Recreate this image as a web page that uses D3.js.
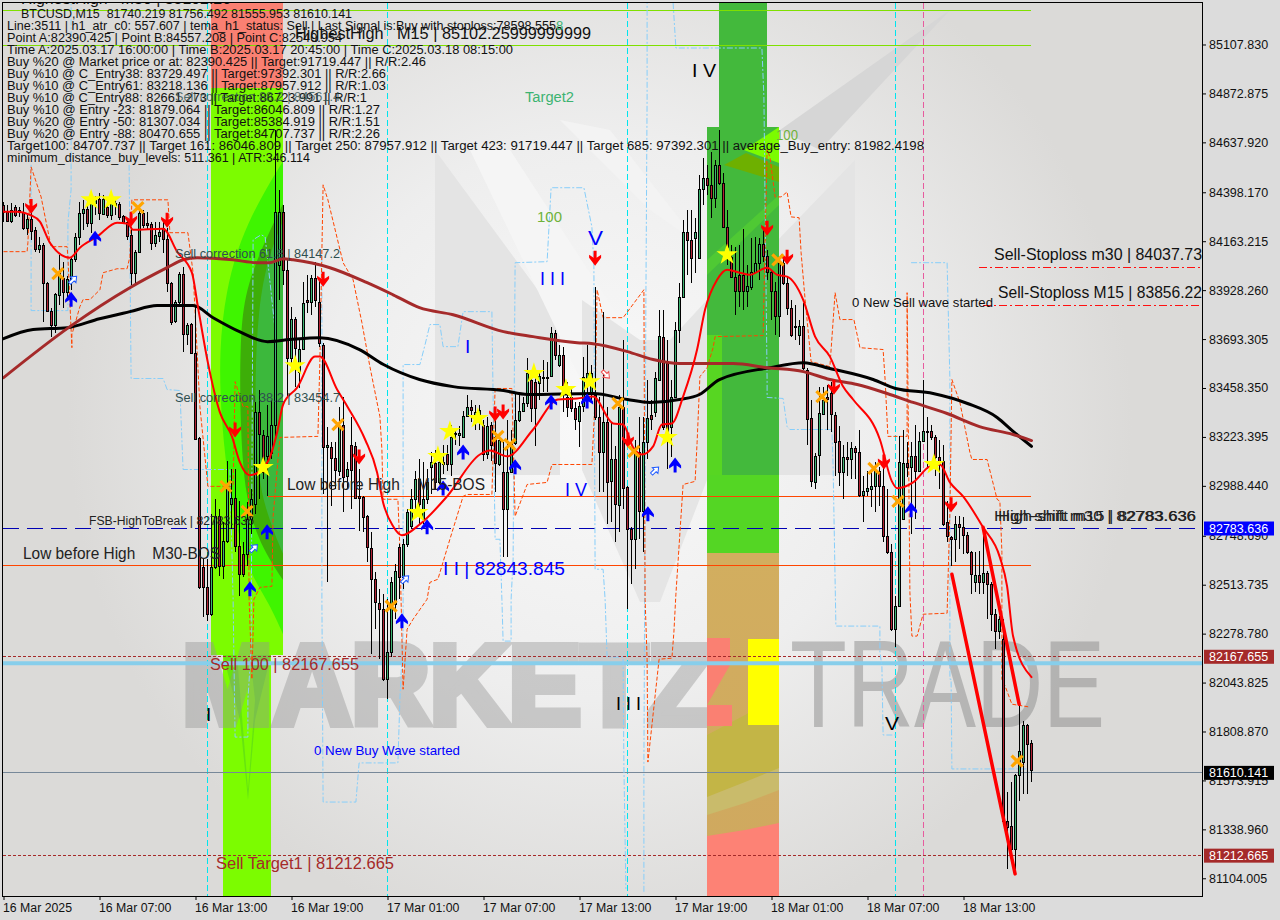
<!DOCTYPE html>
<html><head><meta charset="utf-8">
<script src="https://cdn.jsdelivr.net/npm/d3@7/dist/d3.min.js"></script>
<style>html,body{margin:0;padding:0;background:#dcdcdc;overflow:hidden}svg{display:block}text{font-family:"Liberation Sans",Arial,sans-serif;white-space:pre}</style>
</head><body><div id="chart"></div>
<script>
const candleOpen=[84338,84305,84261,84328,84305,84305,84228,84271,84218,84127,
84146,83964,83830,83763,83906,83988,83921,83978,84079,84185,
84300,84319,84252,84348,84367,84295,84328,84290,84348,84343,
84285,84257,84194,84012,84113,84300,84252,84247,84156,84189,
84228,84175,83964,83782,83873,84007,83719,83767,83628,83216,
82597,82501,82372,82597,82842,82602,82722,82900,82929,82698,
82660,82660,82828,82900,83341,83235,83130,83149,83283,84050,
84305,84026,83604,83791,83537,83648,83883,83873,83988,83873,
83667,83178,83173,83120,83062,83283,83034,83187,83182,82938,
82933,82842,82689,82540,82425,82396,82060,82190,82420,82693,
82549,82708,82794,82924,83019,82828,82924,83077,83096,83005,
83101,83139,83091,83240,83230,83226,83321,83365,83317,83331,
83283,83144,83283,83221,83096,83053,82876,83053,83197,83307,
83345,83384,83499,83489,83485,83513,83513,83518,83724,83571,
83619,83413,83413,83360,83302,83369,83499,83437,83427,83321,
83154,83297,83010,83115,82900,83369,82981,82780,82732,83149,
82866,83197,83331,83341,83499,83705,83580,83273,83417,83739,
83897,84208,84170,84180,84084,84415,84467,84434,84372,84530,
84444,84232,84089,83993,84002,84002,83926,83945,84017,84060,
84151,84093,84017,83926,83806,84060,83964,83844,83758,83715,
83758,83547,83312,83010,83134,83336,83413,83432,83331,83202,
83053,83125,83115,83168,83149,82943,82962,82971,82986,83058,
82986,82746,82669,82300,82410,82828,83096,83077,83130,83058,
83202,83250,83250,83221,83125,83106,82813,82741,82732,82804,
82789,82751,82669,82525,82559,82525,82569,82516,82372,82291,
82252,81380,81355,81245,81600,81662,81840,81754];
const candleClose=[84305,84261,84314,84290,84314,84228,84271,84213,84127,84146,
83964,83830,83763,83911,84012,83921,83983,84079,84185,84300,
84319,84252,84362,84362,84300,84367,84290,84348,84338,84280,
84257,84189,84012,84113,84300,84242,84242,84156,84194,84208,
84175,83964,83777,83873,84007,83719,83763,83628,83216,82501,
82501,82372,82597,82842,82602,82722,82971,82929,82698,82564,
82564,82828,82924,83341,83235,83058,83226,83283,84305,84305,
84026,83604,83791,83652,83648,83868,83873,83988,83883,83676,
83178,83187,83120,83062,83273,83034,83067,83067,82933,82929,
82837,82693,82540,82430,82396,82060,82190,82525,82578,82549,
82708,82861,82924,83019,82900,82924,83005,83101,83005,83101,
83091,83091,83221,83235,83240,83326,83365,83350,83345,83355,
83144,83278,83187,83096,83211,82876,83053,83197,83307,83350,
83384,83528,83365,83365,83518,83509,83509,83724,83619,83619,
83441,83365,83360,83307,83374,83509,83532,83532,83321,83154,
83297,83010,83115,82900,83369,82981,82780,82732,83149,82866,
83197,83312,83312,83504,83710,83273,83245,83417,83739,83897,
84208,84170,84084,84208,84415,84467,84434,84372,84530,84444,
84232,84137,83993,83926,83926,83926,83950,84017,84060,84151,
84093,84017,83926,83806,84060,83964,83844,83715,83753,83758,
83556,83312,83010,83134,83336,83403,83403,83331,83202,83053,
83125,83115,83168,83149,82943,82962,82976,82986,83058,82986,
82746,82669,82300,82410,83101,83096,83077,83130,83058,83202,
83250,83245,83221,83125,83106,82804,82746,82732,82804,82789,
82751,82669,82564,82559,82525,82569,82516,82372,82291,82348,
81380,81351,81245,81600,81715,81840,81749,81624];
const candleHigh=[84352,84338,84348,84338,84328,84348,84300,84348,84232,84185,
84156,83969,83844,83916,84098,84065,83998,84084,84204,84352,
84362,84362,84386,84381,84396,84386,84376,84376,84372,84352,
84290,84276,84232,84122,84314,84314,84305,84257,84257,84257,
84266,84228,83969,83883,84017,84041,83772,83772,83849,83221,
82636,82636,82852,82924,82876,82813,83106,83067,83067,82914,
82717,82909,82971,83389,83451,83259,83379,83403,84698,84410,
84338,84074,83849,83801,83700,83969,84002,84002,84065,83978,
83676,83269,83197,83197,83369,83417,83101,83321,83197,83067,
82938,82847,82765,82573,82492,82468,82444,82549,82612,82708,
82732,82876,82971,83062,83115,83101,83067,83149,83163,83115,
83187,83187,83283,83259,83274,83350,83427,83403,83379,83379,
83307,83317,83293,83307,83226,83197,83307,83259,83441,83441,
83413,83604,83509,83523,83547,83595,83585,83753,83739,83667,
83657,83485,83465,83389,83389,83609,83667,83571,83945,83417,
83825,83369,83293,83178,83427,83691,82986,82789,83211,83321,
83321,83499,83403,83537,83835,83835,83691,83499,83777,83964,
84266,84314,84314,84276,84482,84563,84530,84592,84554,84698,
84492,84314,84146,84137,84146,84223,84050,84180,84185,84180,
84218,84122,84026,83969,84065,84084,83993,83883,83858,83787,
83868,83556,83403,83144,83465,83465,83475,83485,83341,83274,
83187,83197,83197,83178,83259,83034,83058,83067,83101,83077,
83115,82971,82708,82458,83226,83259,83197,83197,83283,83245,
83499,83317,83283,83235,83211,83187,82914,82746,82842,82842,
82837,82765,82674,82669,82674,82789,82578,82525,82396,82362,
82348,81519,81567,81605,81940,81859,81845,81768];
const candleLow=[84257,84257,84252,84280,84280,84218,84194,84170,84113,84108,
83777,83825,83705,83724,83859,83844,83883,83930,84065,84146,
84218,84232,84204,84290,84266,84290,84276,84266,84290,84266,
84252,84170,83954,83964,84108,84228,84218,84122,84137,84161,
84108,83921,83763,83772,83859,83633,83667,83624,83211,82492,
82358,82338,82362,82588,82554,82540,82713,82780,82669,82458,
82550,82602,82756,82852,82924,83019,82938,83115,83211,83883,
83954,83417,83547,83465,83460,83643,83820,83810,83849,83657,
82947,82525,82890,82971,83034,82861,82971,82876,82924,82770,
82765,82621,82180,82300,82156,82051,81964,82166,82348,82444,
82492,82693,82780,82876,82804,82804,82900,82947,82971,82995,
83043,83058,83034,83187,83178,83226,83317,83293,83259,83259,
83106,83115,83106,82957,83082,82645,82645,83048,83187,83293,
83341,83365,83293,83178,83403,83437,83437,83513,83595,83561,
83341,83317,83345,83259,83173,83341,83403,83403,83307,82957,
82957,82804,82813,82717,82765,82876,82396,82516,82588,82732,
82669,83115,83259,83321,83494,83259,83067,83125,83413,83676,
83892,84002,83964,84012,84079,84338,84386,84276,84324,84434,
84228,84050,83988,83810,83849,83835,83849,83930,84012,83978,
84065,83978,83787,83715,83705,83954,83810,83705,83691,83667,
83547,83187,82981,82971,83034,83331,83259,83245,83034,82986,
82924,83034,83019,83019,82933,82813,82938,82885,82861,82890,
82717,82660,82291,82214,82406,82828,83029,82756,82828,83053,
83197,83067,83211,83034,82971,82794,82717,82602,82621,82684,
82660,82660,82468,82477,82468,82468,82348,82291,82204,82252,
81375,81149,81221,81125,81475,81509,81509,81566];

const blackMA=[[0,83695],[7.4,83739],[16,83748],[24,83791],[31.6,83825],[38.4,83854],[47.4,83854],[52.4,83796],[59,83729],[66,83681],[71.6,83691],[79,83700],[89,83643],[95,83571],[104,83499],[112.4,83465],[125,83446],[131,83427],[147.4,83432],[156,83403],[161.6,83389],[169,83403],[174,83427],[179,83499],[191.6,83556],[200,83580],[206.6,83552],[217.4,83499],[223,83456],[232.4,83432],[241,83384],[248.4,83317],[252.4,83250],[257,83178]];
const brownMA=[[0,83508],[16.6,83753],[31.6,83940],[40.9,84036],[44.9,84074],[48.4,84084],[57.4,84074],[63.4,84060],[66.6,84060],[70,84079],[72.4,84074],[81.6,84036],[90.9,83964],[97.4,83906],[104,83844],[112.4,83810],[125,83729],[132.4,83705],[143.4,83676],[147.4,83671],[156,83633],[162.4,83595],[169,83576],[182.4,83576],[190.9,83556],[200,83537],[206.6,83499],[213.4,83475],[220.9,83432],[227.4,83389],[235.9,83336],[244,83273],[252.4,83235],[257,83206]];
const redLine=[[0,84305],[3.4,84305],[6.6,84290],[9.1,84257],[11.6,84156],[16.6,84084],[19.1,84132],[23.4,84185],[28.4,84252],[31.1,84247],[32.4,84218],[39.9,84223],[43.4,84113],[47.1,84012],[48.6,83849],[51.1,83580],[54.1,83341],[57.1,83226],[59.1,83101],[61.6,83039],[66.1,83106],[68.4,83245],[69.9,83379],[73.4,83460],[77.9,83609],[79.1,83609],[83.4,83451],[86.1,83365],[90.4,83211],[93.4,83053],[94.9,82909],[97.4,82794],[99.6,82751],[104.1,82804],[110.9,82938],[119.1,83139],[121.6,83158],[125.9,83130],[132.4,83259],[138.6,83403],[143.4,83408],[147.4,83417],[152.4,83288],[154.9,83283],[157.4,83173],[159.6,83139],[162.4,83178],[164.6,83283],[167.1,83288],[169.9,83417],[173.4,83643],[175.4,83835],[178.4,83978],[180.9,84026],[184.1,84012],[186.6,84002],[190.9,84036],[193.4,84002],[195.9,83993],[199.9,83883],[202.9,83705],[206.6,83609],[209.9,83465],[212.4,83403],[219.1,83211],[222.1,83010],[223.4,82977],[227.4,83005],[231.6,83082],[234.1,83091],[236.6,83005],[239.9,82938],[244.9,82789],[249.1,82645],[250.9,82506],[252.4,82266],[257,82070]];
const thickDownA=[[237.1,82564],[252.9,81125]];
const thickDownB=[[244.9,82789],[253.9,81940]];
const orangeStop=[[0,84113],[5.9,84113],[6.1,84156],[6.9,84520],[9.4,84376],[10.4,84280],[11.9,84137],[15.9,84137],[16.1,84089],[17.1,83652],[17.1,83715],[19.1,83849],[19.9,83883],[21.6,83883],[24.1,83930],[24.9,84012],[28.4,84031],[30.9,84031],[31.6,84089],[32.1,84362],[41.1,84362],[41.6,84204],[46.1,84204],[47.4,84012],[49.1,83369],[51.1,82986],[57.4,82986],[57.9,83489],[59.9,83369],[61.1,83369],[61.4,82444],[62.1,82060],[62.6,82444],[64.1,82501],[67.1,82506],[67.4,82842],[69.1,83221],[78.6,83226],[79.1,83595],[79.9,84434],[81.1,84362],[84.9,84060],[87.4,83978],[89.6,83772],[91.6,83561],[94.1,83321],[94.6,83163],[94.9,82924],[98.6,82924],[99.1,82684],[99.9,82012],[100.9,82300],[102.4,82348],[105.9,82444],[106.6,82525],[108.6,82540],[111.6,82732],[114.9,82938],[115.9,82947],[122.1,82947],[122.9,83456],[127.1,83456],[127.9,82842],[130.9,82995],[135.9,83005],[137.1,83091],[147.1,83091],[147.9,83403],[148.4,83930],[149.9,83796],[154.9,83796],[160.1,83930],[160.4,82444],[160.9,82156],[161.1,81662],[163.9,82156],[167.1,82161],[167.6,82286],[168.1,82468],[169.9,82995],[172.9,83010],[173.4,83197],[174.1,83513],[175.9,83556],[177.4,83652],[177.9,83705],[189.9,83710],[190.9,84602],[191.6,84568],[192.9,84376],[194.4,84376],[195.9,84400],[196.9,84280],[198.9,84276],[199.4,84108],[200.4,83883],[201.9,83585],[206.6,83561],[207.9,83916],[209.1,83787],[212.6,83787],[214.1,83652],[219.9,83643],[220.4,83499],[221.1,83226],[225.9,83226],[225.9,83916],[226.1,83499],[226.6,82478],[227.1,82267],[228.4,82267],[229.9,82372],[235.9,82377],[236.6,82861],[237.1,83499],[239.1,83389],[241.6,83149],[242.1,83115],[245.9,83115],[248.4,82924],[249.1,82914],[249.6,82669],[249.6,82060],[250.4,82027],[252.1,81940],[256.6,81926]];
const blueStopSegments=[
[[6.9,84530],[6.9,83830],[16.1,83830],[16.1,84252],[16.9,84410],[16.9,85307]],
[[31.4,84530],[31.9,83504],[39.9,83504],[40.9,83451],[44.1,83446],[44.9,83067],[56.6,83067],[57.4,82444],[57.6,82171],[57.9,81782],[61.1,81782],[61.1,81964],[61.9,82204],[62.4,84170],[64.4,84194],[65.4,84185],[67.1,83883],[67.9,83739]],
[[79.6,84089],[79.6,82444],[79.9,81470],[88.1,81470],[88.9,81658],[98.6,81658],[99.1,81964],[99.9,82286],[99.9,83571],[104.1,83571],[105.4,83667],[106.6,83763],[109.1,83763],[109.9,83657],[113.6,83657],[114.9,83825],[122.1,83825],[122.9,82732],[124.1,82732],[124.6,82444],[124.9,82243],[126.9,82243],[126.9,82444],[127.4,82636],[127.9,84060],[135.9,84065],[136.9,84420],[145.1,84420],[147.1,84232],[147.6,84041],[147.9,82588],[149.9,82588],[150.4,82444],[150.9,82166],[154.9,82166],[155.1,81643],[155.6,81053]],
[[160.1,81039],[160.1,81643],[160.6,83883],[160.9,84856],[160.9,85307]],
[[167.4,85307],[168.1,85091],[189.6,85091],[190.1,84856],[190.9,83499],[190.9,83413],[194.9,83408],[195.9,83273],[196.6,83259],[207.1,83259],[207.4,83082],[208.1,82315],[219.1,82315],[219.1,82190],[219.6,82123],[219.9,81792],[223.6,81792]],
[[226.9,84060],[235.9,84060],[236.6,83499],[236.6,82060],[236.9,82060],[237.1,81629],[255.9,81629]]];
const starMarks=[[21.9,84362],[26.9,84362],[64.9,83077],[72.9,83566],[103.6,82861],[108.6,83130],[111.6,83250],[118.6,83312],[132.6,83528],[140.6,83451],[146.6,83489],[165.9,83221],[180.9,84098],[232.6,83091]];
const crossMarks=[[13.6,84007],[33.6,84324],[55.6,82986],[60.9,82866],[83.6,83283],[96.9,82411],[123.6,83226],[126.6,83187],[153.6,83384],[157.6,83154],[204.6,83417],[193.6,84074],[217.6,83072],[223.6,82914],[253.4,81667]];
const sellArrows=[[6.9,84328],[31.9,84266],[40.9,84261],[57.9,83254],[79.9,83978],[88.9,83125],[122.9,83331],[124.9,83341],[156.1,83206],[147.9,84079],[190.9,84223],[195.9,84084],[207.6,83460],[220.1,83101],[236.9,82895]];
const buyArrows=[[16.9,83887],[22.9,84180],[61.6,82497],[65.9,82770],[99.6,82343],[105.9,82794],[109.9,82981],[114.9,83153],[127.9,83082],[136.9,83393],[145.9,83398],[161.1,82857],[167.9,83091],[226.9,82876]];
const hollowBuy=[[17.4,83978],[62.6,82689],[100.4,82540],[162.9,83062]];
const hollowSell=[[150.6,83523]];
const cyanBars=[51,96,156,223];
const pinkBars=[230];
const priceTicks=[85107.83,84872.875,84637.92,84398.17,84163.215,83928.26,83693.305,83458.35,83223.395,82988.44,82748.69,82513.735,82278.78,82043.825,81808.87,81573.915,81338.96,81104.005];
const timeTickBars=[0,24,48,72,96,120,144,168,192,216,240];
const timeTickLabels=["16 Mar 2025","16 Mar 07:00","16 Mar 13:00","16 Mar 19:00","17 Mar 01:00","17 Mar 07:00","17 Mar 13:00","17 Mar 19:00","18 Mar 01:00","18 Mar 07:00","18 Mar 13:00"];
const infoLines=["Line:3511 | h1_atr_c0: 557.607 | tema_h1_status: Sell | Last Signal is:Buy with stoploss:78598.555",
"Point A:82390.425 | Point B:84557.208 | Point C:82540.954",
"Time A:2025.03.17 16:00:00 | Time B:2025.03.17 20:45:00 | Time C:2025.03.18 08:15:00",
"Buy %20 @ Market price or at: 82390.425 || Target:91719.447 || R/R:2.46",
"Buy %10 @ C_Entry38: 83729.497 || Target:97392.301 || R/R:2.66",
"Buy %10 @ C_Entry61: 83218.136 || Target:87957.912 || R/R:1.03",
"Buy %10 @ C_Entry88: 82661.273 || Target:86723.991 || R/R:1",
"Buy %10 @ Entry -23: 81879.064 || Target:86046.809 || R/R:1.27",
"Buy %20 @ Entry -50: 81307.034 || Target:85384.919 || R/R:1.51",
"Buy %20 @ Entry -88: 80470.655 || Target:84707.737 || R/R:2.26",
"Target100: 84707.737 || Target 161: 86046.809 || Target 250: 87957.912 || Target 423: 91719.447 || Target 685: 97392.301 || average_Buy_entry: 81982.4198",
"minimum_distance_buy_levels: 511.361 | ATR:346.114"];
const infoWidths=[549,335,506,419,379,379,360,373,373,373,917,303];
const hLimeLevels=[85270,85102.26];
const hOrangeLevels=[82938,82607];

const W=1280,H=920;
const x=d3.scaleLinear().domain([0,257]).range([3.5,1031.5]);
const y=d3.scaleLinear().domain([85321.5,85321.5-4.802*900]).range([0,900]);
const svg=d3.select("#chart").append("svg").attr("width",W).attr("height",H).attr("viewBox",`0 0 ${W} ${H}`);
const defs=svg.append("defs");
defs.append("clipPath").attr("id","plot").append("rect").attr("x",3).attr("y",3).attr("width",1199).attr("height",893);
const rg=defs.append("radialGradient").attr("id","bgGlow").attr("gradientUnits","userSpaceOnUse").attr("cx",600).attr("cy",420).attr("r",560);
rg.append("stop").attr("offset",0).attr("stop-color","#f9f9f9");
rg.append("stop").attr("offset",.5).attr("stop-color","#eeeeee");
rg.append("stop").attr("offset",.95).attr("stop-color","#dbdad8");
const tan=defs.append("linearGradient").attr("id","tanGrad").attr("x1",0).attr("x2",0).attr("y1",0).attr("y2",1);
tan.append("stop").attr("offset",0).attr("stop-color","#d2ae5f");
tan.append("stop").attr("offset",1).attr("stop-color","#cfa85f");

svg.append("rect").attr("width",W).attr("height",H).attr("fill","#dcdcdc");
const plot=svg.append("g").attr("clip-path","url(#plot)");
plot.append("rect").attr("x",3).attr("y",3).attr("width",1199).attr("height",893).attr("fill","url(#bgGlow)");

const poly=(g,pts,fill,op)=>g.append("path").attr("d","M"+pts.map(p=>p.join(",")).join("L")+"Z").attr("fill",fill).attr("opacity",op==null?1:op);

// background logo
const bg=plot.append("g");
poly(bg,[[435,150],[435,475],[560,475],[560,320]],"#e4e4e4");
poly(bg,[[470,150],[510,150],[640,350],[640,420],[600,420]],"#f5f5f5");
poly(bg,[[582,300],[582,470],[640,602],[660,602],[707,480],[707,300],[670,340],[640,340]],"#e5e5e5");
poly(bg,[[720,300],[855,160],[855,475],[720,475]],"#e4e4e4");
poly(bg,[[780,130],[950,10],[820,150]],"#d6d6d6");
poly(bg,[[560,120],[610,130],[700,245],[650,210]],"#f3f3f3");

// band I
const b1=plot.append("g");
const edgeArea=d3.line().curve(d3.curveBasis);
const bandShape=(pts,fill)=>b1.append("path").attr("d",edgeArea(pts)+"Z").attr("fill",fill);
b1.append("rect").attr("x",211).attr("y",3).attr("width",72).attr("height",85).attr("fill","#fa8072");
b1.append("rect").attr("x",211).attr("y",88).attr("width",72).attr("height",567).attr("fill","#7cfc00");
b1.append("rect").attr("x",223).attr("y",655).attr("width",48).attr("height",241).attr("fill","#7cfc00");
const b1clip=defs.append("clipPath").attr("id","b1c");b1clip.append("rect").attr("x",211).attr("y",88).attr("width",72).attr("height",567);
b1.attr("clip-path",null);
const inner=b1.append("g").attr("clip-path","url(#b1c)");
const innerShape=(pts,fill)=>inner.append("path").attr("d",edgeArea(pts)+"Z").attr("fill",fill);
innerShape([[290,150],[290,150],[262,195],[240,240],[226,290],[219,350],[221,420],[230,500],[247,570],[268,600],[290,650],[290,650]],"#3ff500");
innerShape([[290,190],[290,190],[265,240],[245,290],[240,340],[240,420],[245,500],[262,550],[290,590],[290,590]],"#3dae08");
innerShape([[290,205],[290,205],[268,255],[258,310],[255,380],[256,450],[262,505],[290,570],[290,570]],"#3cb83c");
poly(b1,[[223,655],[271,655],[255,720],[248,800],[240,720]],"#66e410");
poly(b1,[[237,655],[250,655],[255,700],[248,790]],"#7cfc00");

// watermark
const wm=plot.append("g");
wm.append("text").attr("x",182).attr("y",724).attr("font-size",114).attr("font-weight",700).attr("textLength",532).attr("lengthAdjust","spacingAndGlyphs").attr("fill","#959595").attr("stroke","#959595").attr("stroke-width",8).attr("opacity",.42).text("MARKETZ");
wm.append("text").attr("x",790).attr("y",727).attr("font-size",124).attr("textLength",315).attr("lengthAdjust","spacingAndGlyphs").attr("fill","#8c8c8c").attr("opacity",.5).text("TRADE");

// band IV
const b4=plot.append("g");
b4.append("rect").attr("x",719).attr("y",3).attr("width",48).attr("height",124).attr("fill","#43b93c");
b4.append("rect").attr("x",707).attr("y",127).attr("width",72).attr("height",426).attr("fill","#43b93c");
poly(b4,[[744,150],[779,127],[779,163]],"#7cfc00");
poly(b4,[[724,165],[746,153],[779,167],[779,182]],"#6eb000");
b4.append("rect").attr("x",707).attr("y",335).attr("width",15).attr("height",218).attr("fill","#57d622");
b4.append("rect").attr("x",707).attr("y",475).attr("width",72).attr("height",78).attr("fill","#54d624");
poly(b4,[[707,260],[779,195],[779,205],[707,275]],"#4fc934");
b4.append("rect").attr("x",707).attr("y",553).attr("width",72).attr("height",343).attr("fill","url(#tanGrad)");
poly(b4,[[707,735],[745,715],[779,695],[779,775],[745,785],[707,800]],"#c3b546");
poly(b4,[[707,797],[745,782],[779,768],[779,790],[745,803],[707,815]],"#c9bb6b");
poly(b4,[[707,836],[745,830],[779,823],[779,896],[707,896]],"#fd8275");
poly(b4,[[707,638],[730,638],[730,665],[707,705]],"#fa8072");
b4.append("rect").attr("x",707).attr("y",705).attr("width",25).attr("height",21).attr("fill","#fa8072");
b4.append("rect").attr("x",748).attr("y",639).attr("width",31).attr("height",86).attr("fill","#ffff00");

// vertical dashed
const snap=v=>Math.floor(v)+.5;
const vg=plot.append("g");
vg.selectAll("line.c").data(cyanBars).join("line").attr("class","c").attr("x1",d=>snap(x(d))).attr("x2",d=>snap(x(d))).attr("y1",3).attr("y2",896).attr("stroke","#00e5ee").attr("stroke-dasharray","6,3");
vg.selectAll("line.p").data(pinkBars).join("line").attr("class","p").attr("x1",d=>snap(x(d))).attr("x2",d=>snap(x(d))).attr("y1",3).attr("y2",896).attr("stroke","#e75b9e").attr("stroke-dasharray","6,3");

// level lines
const lg=plot.append("g");
const level=(p,x1,x2,c,w,dash)=>lg.append("line").attr("x1",x1).attr("x2",x2).attr("y1",w>1?y(p):snap(y(p))).attr("y2",w>1?y(p):snap(y(p))).attr("stroke",c).attr("stroke-width",w).attr("stroke-dasharray",dash||null);
hLimeLevels.forEach(p=>level(p,3,1031,"#7fe000",1));
hOrangeLevels.forEach((p,i)=>level(p,i?3:268,1031,"#ff4500",1));
level(84037.73,979,1202,"#ff1010",1,"8,3,2,3");
level(83856.22,983,1202,"#ff1010",1,"8,3,2,3");
level(82783.636,3,1202,"#0000b4",1,"16,8");
level(82167.655,3,1202,"#a52a2a",1,"3,2");
level(81212.665,3,1202,"#a52a2a",1,"3,2");
level(82137,3,1202,"#87ceeb",4);
level(81610.141,3,1202,"#778899",1);

// stop lines
const ln=d3.line().x(d=>x(d[0])).y(d=>y(d[1]));
blueStopSegments.forEach(s=>plot.append("path").attr("d",ln(s)).attr("fill","none").attr("stroke","#87cefa").attr("stroke-dasharray","6,2,2,2"));
plot.append("path").attr("d",ln(orangeStop)).attr("fill","none").attr("stroke","#ff4500").attr("stroke-dasharray","4,2");

// candles
const idx=d3.range(candleOpen.length);
const cg=plot.append("g").attr("shape-rendering","crispEdges");
cg.selectAll("line").data(idx).join("line").attr("x1",i=>Math.floor(x(i))+.5).attr("x2",i=>Math.floor(x(i))+.5)
 .attr("y1",i=>y(candleHigh[i])).attr("y2",i=>y(candleLow[i])).attr("stroke","#000");
cg.selectAll("rect").data(idx).join("rect").attr("x",i=>Math.floor(x(i))-.5).attr("width",2)
 .attr("y",i=>Math.round(y(Math.max(candleOpen[i],candleClose[i])))+.5)
 .attr("height",i=>Math.max(1,Math.round(Math.abs(y(candleOpen[i])-y(candleClose[i])))))
 .attr("fill",i=>candleClose[i]>=candleOpen[i]?"#3cb371":"#b22234").attr("stroke","#000");

// moving averages
const sm=d3.line().curve(d3.curveMonotoneX).x(d=>x(d[0])).y(d=>y(d[1]));
const mg=plot.append("g").attr("fill","none").attr("stroke-linejoin","round").attr("stroke-linecap","round");
mg.append("path").attr("d",sm(blackMA)).attr("stroke","#000").attr("stroke-width",3);
mg.append("path").attr("d",sm(brownMA)).attr("stroke","#a52a2a").attr("stroke-width",3);
mg.append("path").attr("d",sm(redLine)).attr("stroke","#f00").attr("stroke-width",2);
mg.append("path").attr("d",ln(thickDownA)).attr("stroke","#f00").attr("stroke-width",3.5);
mg.append("path").attr("d",ln(thickDownB)).attr("stroke","#f00").attr("stroke-width",3.5);

// markers
const mk=plot.append("g");
const pos=d=>`translate(${x(d[0])},${y(d[1])})`;
const downArrow="M-1.5,-8L1.5,-8L1.5,-1L6,-4L6,-1L0,7L-6,-1L-6,-4L-1.5,-1Z";
const upArrow="M-1.5,8L1.5,8L1.5,1L6,4L6,1L0,-7L-6,1L-6,4L-1.5,1Z";
mk.selectAll("path.s").data(sellArrows).join("path").attr("class","s").attr("d",downArrow).attr("transform",pos).attr("fill","#f00");
mk.selectAll("path.b").data(buyArrows).join("path").attr("class","b").attr("d",upArrow).attr("transform",pos).attr("fill","#00f");
mk.selectAll("path.hb").data(hollowBuy).join("path").attr("class","hb").attr("d","M-1.5,5L1.5,5L1.5,0L4,0L0,-5L-4,0L-1.5,0Z").attr("transform",d=>pos(d)+" rotate(45)").attr("fill","#fff").attr("stroke","#1e5aff");
mk.selectAll("path.hs").data(hollowSell).join("path").attr("class","hs").attr("d","M-1.5,5L1.5,5L1.5,0L4,0L0,-5L-4,0L-1.5,0Z").attr("transform",d=>pos(d)+" rotate(135)").attr("fill","#fff").attr("stroke","#f05050");
mk.selectAll("path.x").data(crossMarks).join("path").attr("class","x").attr("d","M-5.5,-5.5L5.5,5.5M-5.5,5.5L5.5,-5.5").attr("transform",pos).attr("stroke","#ffa500").attr("stroke-width",3.2).attr("fill","none");
mk.selectAll("path.st").data(starMarks).join("path").attr("class","st").attr("d",d3.symbol(d3.symbolStar,140)).attr("transform",pos).attr("fill","#ffff00");

// text
const tg=plot.append("g");
const label=(s,x0,cy,size,fill,w)=>{const t=tg.append("text").attr("x",x0).attr("y",cy).attr("dominant-baseline","central").attr("font-size",size).attr("fill",fill).text(s);
 if(w){t.attr("textLength",w).attr("lengthAdjust","spacingAndGlyphs");}return t;};
label("HighestHigh   M30 | 85102.26",21,-1,14,"#111",210);
label("BTCUSD,M15  81740.219 81756.492 81555.953 81610.141",21,14,12.5,"#111",331);
infoLines.forEach((s,i)=>label(s,7,26+i*12,12.5,"#111",infoWidths[i]));
label("HighestHigh   M15 | 85102.25999999999",295,33,16.5,"#111",296);
label("8",556,25,13,"#3cb371");
label("Target2",525,97,14,"#3cb371",49);
label("100",537,217,14,"#6fb23a",25);
label("100",776,135,14,"#6fb23a",22);
label("Sell correction 88.2 | 84561.4",175,96,13.5,"rgba(47,79,79,.8)",165);
label("Sell correction 61.8 | 84147.2",175,253,13.5,"#2f4f4f",165);
label("Sell correction 38.2 | 83454.7",175,397,13.5,"#2f4f4f",165);
label("Low before High    M15-BOS",287,484,16,"#222",198);
label("Low before High    M30-BOS",23,553,16,"#222",197);
label("FSB-HighToBreak | 82783.636",89,521,12.5,"#222",165);
label("I I | 82843.845",443,568,18.5,"#0000ff",122);
label("I V",565,490,18,"#0000ff",22);
label("V",588,238,20,"#0000ff",15);
label("I I I",540,278,19,"#0000ff",25);
label("I",465,346,19,"#0000ff");
label("I V",692,70,19,"#000",24);
label("I I I",616,703,19,"#000",25);
label("V",885,723,19,"#000",14);
label("I",206,714,19,"#000");
label("Sell 100 | 82167.655",210,664,16,"#a52a2a",149);
label("Sell Target1 | 81212.665",216,863,16,"#a52a2a",178);
label("0 New Buy Wave started",314,750,13.5,"#0000ff",146);
label("0 New Sell wave started",852,302,13.5,"#111",141);
label("Sell-Stoploss m30 | 84037.73",994,254,16.5,"#111",208);
label("Sell-Stoploss M15 | 83856.22",998,292,16.5,"#111",204);
label("High-shift m30 | 82783.636",994,515,15,"#222",202);
label("High-shift m15 | 82783.636",998,515,15,"#222",198);

// frame and axes
svg.append("rect").attr("x",2.5).attr("y",2.5).attr("width",1199.5).attr("height",893.5).attr("fill","none").attr("stroke","#000").attr("shape-rendering","crispEdges");
const axR=svg.append("g").attr("transform","translate(1202,0)").call(d3.axisRight(y).tickValues(priceTicks).tickFormat(d3.format(".3f")).tickSize(4).tickPadding(3));
axR.select(".domain").remove();
axR.selectAll("text").attr("font-size",12.5).attr("font-family","Liberation Sans").attr("fill","#111");
const axB=svg.append("g").attr("transform","translate(0,896)").call(d3.axisBottom(x).tickValues(timeTickBars).tickFormat((d,i)=>timeTickLabels[i]).tickSize(4).tickPadding(1));
axB.select(".domain").remove();
axB.selectAll("text").attr("font-size",12.3).attr("font-family","Liberation Sans").attr("fill","#111").attr("text-anchor","start").attr("dx",-1).attr("dy","0.9em");
const tags=[[82783.636,"#0000ff","#fff"],[82167.655,"#a52a2a","#fff"],[81610.141,"#000","#fff"],[81212.665,"#a52a2a","#fff"]];
const tgs=svg.append("g").selectAll("g").data(tags).join("g").attr("transform",d=>`translate(1204,${y(d[0])})`);
tgs.append("rect").attr("x",0).attr("y",-7).attr("width",70).attr("height",14).attr("fill",d=>d[1]);
tgs.append("text").attr("x",5).attr("y",0.5).attr("dominant-baseline","central").attr("font-size",12.5).attr("fill",d=>d[2]).text(d=>d3.format(".3f")(d[0]));
</script></body></html>
